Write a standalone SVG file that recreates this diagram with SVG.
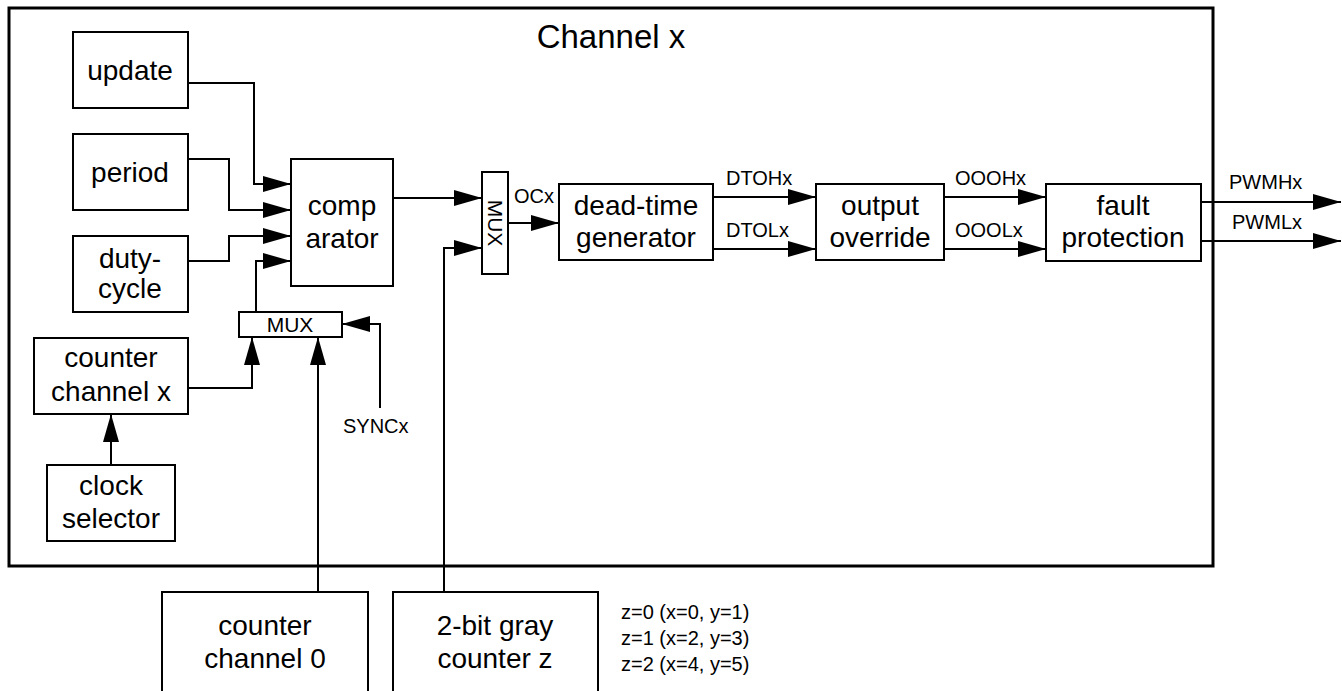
<svg xmlns="http://www.w3.org/2000/svg" width="1342" height="691" viewBox="0 0 1342 691">
<defs>
<marker id="ah" markerUnits="userSpaceOnUse" markerWidth="28" markerHeight="18" refX="28" refY="9" orient="auto">
<path d="M0,1 L28,9 L0,17 Z" fill="#000"/>
</marker>
</defs>
<style>
.b{fill:#fff;stroke:#000;stroke-width:2}
.t{font-family:"Liberation Sans",Arial,sans-serif;font-size:28px;text-anchor:middle;fill:#000}
.s{font-family:"Liberation Sans",Arial,sans-serif;font-size:20px;fill:#000}
.c{fill:none;stroke:#000;stroke-width:2}
.a{marker-end:url(#ah)}
</style>
<rect id="channel" x="9" y="8" width="1204" height="558" fill="none" stroke="#000" stroke-width="3"/>
<text class="t" x="611" y="48" style="font-size:33px">Channel x</text>
<g id="connectors">
<path class="c a" d="M188,83 H254 V184 H291"/>
<path class="c a" d="M188,159 H229 V210 H291"/>
<path class="c a" d="M188,261 H229 V236 H291"/>
<path class="c a" d="M256,312 V261 H291"/>
<path class="c a" d="M188,388 H252 V337"/>
<path class="c a" d="M318,592 V337"/>
<path class="c a" d="M380,408 V324 H342"/>
<path class="c a" d="M111,465 V414"/>
<path class="c a" d="M393,198 H482"/>
<path class="c a" d="M444,592 V248 H482"/>
<path class="c a" d="M508,223 H559"/>
<path class="c a" d="M713,197 H816"/>
<path class="c a" d="M713,249 H816"/>
<path class="c a" d="M944,197 H1046"/>
<path class="c a" d="M944,249 H1046"/>
<path class="c a" d="M1201,202 H1341"/>
<path class="c a" d="M1201,241 H1341"/>
<text class="s" x="514" y="203">OCx</text>
<text class="s" x="726" y="185">DTOHx</text>
<text class="s" x="726" y="237">DTOLx</text>
<text class="s" x="955" y="185">OOOHx</text>
<text class="s" x="955" y="237">OOOLx</text>
<text class="s" x="1229" y="189">PWMHx</text>
<text class="s" x="1232" y="229">PWMLx</text>
<text class="s" x="343" y="433">SYNCx</text>
</g>
<g id="update"><rect class="b" x="73" y="32" width="115" height="76"/><text class="t" x="130" y="80">update</text></g>
<g id="period"><rect class="b" x="73" y="134" width="115" height="76"/><text class="t" x="130" y="182">period</text></g>
<g id="duty-cycle"><rect class="b" x="73" y="236" width="115" height="76"/><text class="t" x="130" y="268">duty-</text><text class="t" x="130" y="298">cycle</text></g>
<g id="comparator"><rect class="b" x="291" y="159" width="102" height="127"/><text class="t" x="342" y="215">comp</text><text class="t" x="342" y="248">arator</text></g>
<g id="mux1"><rect class="b" x="239" y="312" width="103" height="25"/><text class="s" x="290" y="332" text-anchor="middle" style="font-size:21px">MUX</text></g>
<g id="counter-channel-x"><rect class="b" x="34" y="338" width="154" height="76"/><text class="t" x="111" y="367">counter</text><text class="t" x="111" y="401">channel x</text></g>
<g id="clock-selector"><rect class="b" x="47" y="465" width="128" height="76"/><text class="t" x="111" y="495">clock</text><text class="t" x="111" y="528">selector</text></g>
<g id="mux2"><rect class="b" x="482" y="172" width="26" height="102"/><text class="s" x="495" y="223" text-anchor="middle" dominant-baseline="central" transform="rotate(90 495 223)" style="font-size:21px">MUX</text></g>
<g id="dead-time"><rect class="b" x="559" y="184" width="154" height="76"/><text class="t" x="636" y="215">dead-time</text><text class="t" x="636" y="247">generator</text></g>
<g id="output-override"><rect class="b" x="816" y="184" width="128" height="76"/><text class="t" x="880" y="215">output</text><text class="t" x="880" y="247">override</text></g>
<g id="fault-protection"><rect class="b" x="1046" y="184" width="155" height="77"/><text class="t" x="1123" y="215">fault</text><text class="t" x="1123" y="247">protection</text></g>
<g id="counter-channel-0"><rect class="b" x="162" y="592" width="206" height="110"/><text class="t" x="265" y="635">counter</text><text class="t" x="265" y="668">channel 0</text></g>
<g id="gray-counter"><rect class="b" x="393" y="592" width="205" height="110"/><text class="t" x="495" y="635">2-bit gray</text><text class="t" x="495" y="668">counter z</text></g>
<g id="note">
<text class="s" x="621" y="619">z=0 (x=0, y=1)</text>
<text class="s" x="621" y="645">z=1 (x=2, y=3)</text>
<text class="s" x="621" y="671">z=2 (x=4, y=5)</text>
</g>
</svg>
